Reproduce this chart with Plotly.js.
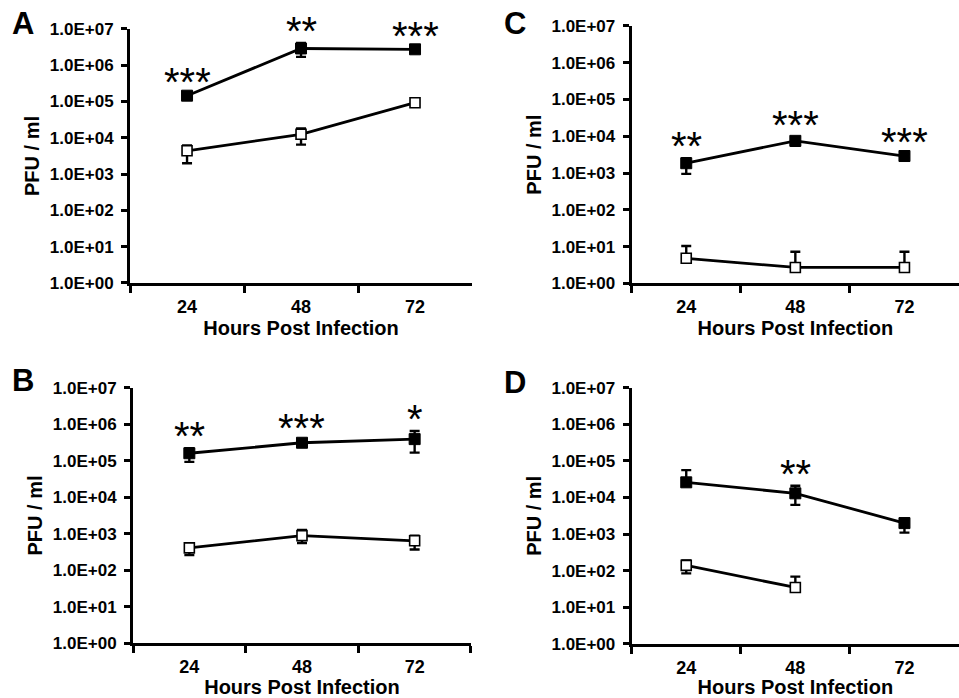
<!DOCTYPE html>
<html>
<head>
<meta charset="utf-8">
<script src="https://cdn.plot.ly/plotly-3.0.1.min.js"></script>
<style>html,body{margin:0;padding:0;background:#fff;}#chart{width:959px;height:698px;}</style>
</head>
<body>
<div id="chart"></div>
<script>
// ---- data ----
const hours = ['24', '48', '72'];
const yTickVals = [1, 10, 100, 1000, 10000, 100000, 1000000, 10000000];
const yTickText = ['1.0E+00', '1.0E+01', '1.0E+02', '1.0E+03', '1.0E+04', '1.0E+05', '1.0E+06', '1.0E+07'];
const panelLabels = ['A', 'B', 'C', 'D'];

const A_filled = [1.45e5, 2.9e6, 2.75e6];
const A_filledErrUp = [2e4, 1.2e6, 3e5];
const A_filledErrDown = [2e4, 1.2e6, 3e5];
const A_open = [4.4e3, 1.25e4, 9.3e4];
const A_openErrUp = [1.8e3, 5.5e3, 1e4];
const A_openErrDown = [2.4e3, 6e3, 1e4];
const A_stars = ['***', '**', '***'];

const B_filled = [1.6e5, 3.1e5, 3.9e5];
const B_filledErrUp = [6e4, 5e4, 2.6e5];
const B_filledErrDown = [6.7e4, 5e4, 2.24e5];
const B_open = [4.1e2, 8.9e2, 6.4e2];
const B_openErrUp = [1.4e2, 3.7e2, 2.5e2];
const B_openErrDown = [1.5e2, 3.3e2, 2.7e2];
const B_stars = ['**', '***', '*'];

const C_filled = [1.85e3, 7.5e3, 2.9e3];
const C_filledErrUp = [7e2, 2e3, 4e2];
const C_filledErrDown = [9e2, 2e3, 4e2];
const C_open = [4.8, 2.7, 2.7];
const C_openErrUp = [5.6, 4.5, 4.5];
const C_openErrDown = [0, 0, 0];
const C_stars = ['**', '***', '***'];

const D_filled = [2.6e4, 1.3e4, 2.0e3];
const D_filledErrUp = [3e4, 8e3, 7e2];
const D_filledErrDown = [0, 6.7e3, 9e2];
const D_open = [1.4e2, 35, null];
const D_openErrUp = [50, 34, null];
const D_openErrDown = [55, 0, null];
const D_stars = ['', '**', ''];

// ---- build ----
const FONT = 'Liberation Sans, Arial, Helvetica, sans-serif';
const panels = [
  {f: A_filled, fu: A_filledErrUp, fd: A_filledErrDown, o: A_open, ou: A_openErrUp, od: A_openErrDown, s: A_stars, n: ''},
  {f: B_filled, fu: B_filledErrUp, fd: B_filledErrDown, o: B_open, ou: B_openErrUp, od: B_openErrDown, s: B_stars, n: '2'},
  {f: C_filled, fu: C_filledErrUp, fd: C_filledErrDown, o: C_open, ou: C_openErrUp, od: C_openErrDown, s: C_stars, n: '3'},
  {f: D_filled, fu: D_filledErrUp, fd: D_filledErrDown, o: D_open, ou: D_openErrUp, od: D_openErrDown, s: D_stars, n: '4'}
];
const Y_MAX_DECADES = 7;

const traces = [];
const annotations = [];
panels.forEach(function (p) {
  const errStyle = {thickness: 2.4, width: 5, color: '#000', symmetric: false, type: 'data', visible: true};
  traces.push({
    type: 'scatter', mode: 'lines+markers', x: hours, y: p.o, xaxis: 'x' + p.n, yaxis: 'y' + p.n,
    line: {color: '#000', width: 2.8},
    marker: {symbol: 'square', size: 10, color: '#fff', line: {color: '#000', width: 1.6}},
    error_y: Object.assign({array: p.ou, arrayminus: p.od}, errStyle),
    cliponaxis: false, showlegend: false, connectgaps: false
  });
  traces.push({
    type: 'scatter', mode: 'lines+markers', x: hours, y: p.f, xaxis: 'x' + p.n, yaxis: 'y' + p.n,
    line: {color: '#000', width: 2.8},
    marker: {symbol: 'square', size: 11, color: '#000', line: {color: '#000', width: 1}},
    error_y: Object.assign({array: p.fu, arrayminus: p.fd}, errStyle),
    cliponaxis: false, showlegend: false
  });
  p.s.forEach(function (txt, j) {
    if (!txt) return;
    const top = p.f[j] + p.fu[j];
    annotations.push({
      xref: 'x' + p.n, yref: 'y' + p.n + ' domain', x: j,
      y: (Math.log10(top) + 0.55) / Y_MAX_DECADES,
      text: txt, showarrow: false, xanchor: 'center', yanchor: 'middle', yshift: -8,
      font: {family: FONT, size: 40, color: '#000'}
    });
  });
});

const letterPos = [[0.024, 0.966], [0.024, 0.455], [0.537, 0.966], [0.537, 0.452]];
panelLabels.forEach(function (L, i) {
  annotations.push({
    xref: 'paper', yref: 'paper', x: letterPos[i][0], y: letterPos[i][1],
    text: '<b>' + L + '</b>', showarrow: false, xanchor: 'center', yanchor: 'middle',
    font: {family: FONT, size: 31, color: '#000'}
  });
});

function xAxis(domain, anchor) {
  return {
    domain: domain, anchor: anchor, type: 'category', range: [-0.5, 2.5],
    showline: true, linecolor: '#000', linewidth: 3, showgrid: false, zeroline: false,
    ticks: 'outside', tickson: 'boundaries', ticklen: 7, tickwidth: 3, tickcolor: '#000',
    ticklabelstandoff: 5,
    tickfont: {family: FONT, size: 18, color: '#000', weight: 'bold'},
    title: {text: '<b>Hours Post Infection</b>', standoff: 4, font: {family: FONT, size: 20, color: '#000'}},
    fixedrange: true
  };
}
function yAxis(domain, anchor) {
  return {
    domain: domain, anchor: anchor, type: 'log', range: [0, Y_MAX_DECADES],
    tickvals: yTickVals, ticktext: yTickText,
    showline: true, linecolor: '#000', linewidth: 3, showgrid: false, zeroline: false,
    ticks: 'outside', ticklen: 6, tickwidth: 3, tickcolor: '#000',
    ticklabelstandoff: 4,
    tickfont: {family: FONT, size: 17, color: '#000', weight: 'bold'},
    title: {text: '<b>PFU / ml</b>', standoff: 5, font: {family: FONT, size: 20, color: '#000'}},
    fixedrange: true
  };
}

const layout = {
  width: 959, height: 698,
  margin: {l: 0, r: 0, t: 0, b: 0},
  paper_bgcolor: '#fff', plot_bgcolor: '#fff',
  showlegend: false,
  xaxis: xAxis([0.1356, 0.4922], 'y'),
  yaxis: yAxis([0.5946, 0.9585], 'x'),
  xaxis2: xAxis([0.1387, 0.4911], 'y2'),
  yaxis2: yAxis([0.0784, 0.4446], 'x2'),
  xaxis3: xAxis([0.6587, 1], 'y3'),
  yaxis3: yAxis([0.5941, 0.9628], 'x3'),
  xaxis4: xAxis([0.6587, 1], 'y4'),
  yaxis4: yAxis([0.0774, 0.4446], 'x4'),
  annotations: annotations
};

Plotly.newPlot('chart', traces, layout, {displayModeBar: false, staticPlot: true});
</script>
</body>
</html>
